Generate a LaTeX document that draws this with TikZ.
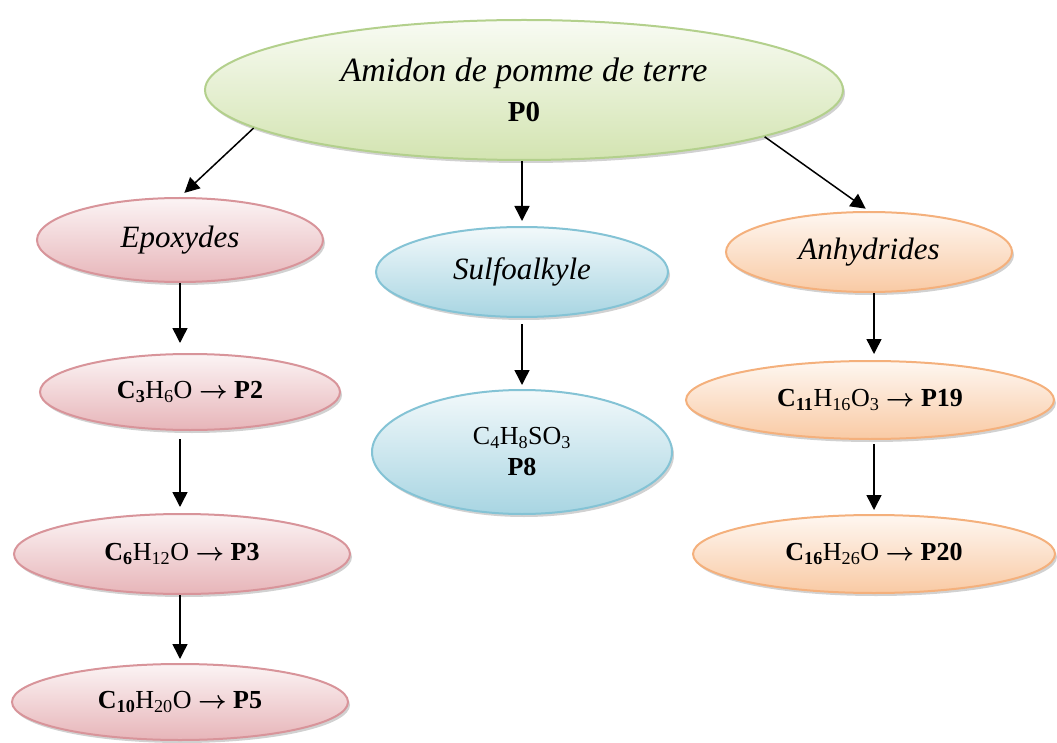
\documentclass[tikz,border=0pt]{standalone}
\usepackage{fontspec}
\setmainfont{Liberation Serif}
\usetikzlibrary{shapes.geometric,arrows.meta,shadows}

\definecolor{greenline}{HTML}{B3D08C}
\definecolor{greenfill}{HTML}{D3E4B1}
\definecolor{pinkline}{HTML}{D8949A}
\definecolor{pinkfill}{HTML}{E7B5B9}
\definecolor{blueline}{HTML}{84C3D5}
\definecolor{bluefill}{HTML}{A8D5E2}
\definecolor{orangeline}{HTML}{F4B07C}
\definecolor{orangefill}{HTML}{F9CAA4}
\newcommand{\donne}{{\boldmath$\rightarrow$}}

\begin{document}
\begin{tikzpicture}[x=1pt,y=-1pt,
  bulle/.style={ellipse,inner sep=0pt,line width=2pt,align=center,
    drop shadow={shadow xshift=2pt,shadow yshift=-3pt,opacity=.3,fill=black!60}},
  vert/.style={bulle,draw=greenline,top color=greenfill!15,bottom color=greenfill},
  rose/.style={bulle,draw=pinkline,top color=pinkfill!15,bottom color=pinkfill},
  bleu/.style={bulle,draw=blueline,top color=bluefill!15,bottom color=bluefill},
  orange/.style={bulle,draw=orangeline,top color=orangefill!15,bottom color=orangefill},
  titre/.style={font=\fontsize{31}{36}\selectfont\itshape},
  formule/.style={font=\fontsize{26}{31}\selectfont},
  fleche/.style={-{Triangle[length=15pt,width=15pt]},line width=1.5pt}]
\useasboundingbox (0,0) rectangle (1057,743);

\node[vert,minimum width=638,minimum height=140,font=\fontsize{34}{40}\selectfont] (p0) at (524,90)
  {\itshape Amidon de pomme de terre\\
   {\fontsize{29}{34}\selectfont\bfseries P0}};

% Epoxydes
\node[rose,minimum width=286,minimum height=84,titre] (epox) at (180,240) {Epoxydes};
\node[rose,minimum width=300,minimum height=76,formule] (p2) at (190,392)
  {\textbf{C\textsubscript{3}}H\textsubscript{6}O \donne{} \textbf{P2}};
\node[rose,minimum width=336,minimum height=80,formule] (p3) at (182,554)
  {\textbf{C\textsubscript{6}}H\textsubscript{12}O \donne{} \textbf{P3}};
\node[rose,minimum width=336,minimum height=76,formule] (p5) at (180,702)
  {\textbf{C\textsubscript{10}}H\textsubscript{20}O \donne{} \textbf{P5}};

% Sulfoalkyle
\node[bleu,minimum width=292,minimum height=90,titre] (sulf) at (522,272) {Sulfoalkyle};
\node[bleu,minimum width=300,minimum height=124,formule] (p8) at (522,452)
  {C\textsubscript{4}H\textsubscript{8}SO\textsubscript{3}\\ \textbf{P8}};

% Anhydrides
\node[orange,minimum width=286,minimum height=80,titre] (anh) at (869,252) {Anhydrides};
\node[orange,minimum width=368,minimum height=78,formule] (p19) at (870,400)
  {\textbf{C\textsubscript{11}}H\textsubscript{16}O\textsubscript{3} \donne{} \textbf{P19}};
\node[orange,minimum width=362,minimum height=78,formule] (p20) at (874,554)
  {\textbf{C\textsubscript{16}}H\textsubscript{26}O \donne{} \textbf{P20}};

\draw[fleche,shorten >=6pt] (p0.188) -- (epox.north);
\draw[fleche,shorten >=5pt] (p0.south -| sulf.north) -- (sulf.north);
\draw[fleche,shorten >=4pt] (p0.-11) -- (anh.north);
\draw[fleche,shorten >=10pt] (epox.south) -- (epox.south |- p2.north);
\draw[fleche,shorten <=8pt,shorten >=6pt] (p2.south -| epox.south) -- (epox.south |- p3.north);
\draw[fleche,shorten >=4pt] (p3.south -| p5.north) -- (p5.north);
\draw[fleche,shorten <=6pt,shorten >=4pt] (sulf.south) -- (p8.north);
\draw[fleche,shorten >=6pt] (anh.south -| p20.north) -- (p19.north -| p20.north);
\draw[fleche,shorten <=4pt,shorten >=4pt] (p19.south -| p20.north) -- (p20.north);
\end{tikzpicture}
\end{document}
